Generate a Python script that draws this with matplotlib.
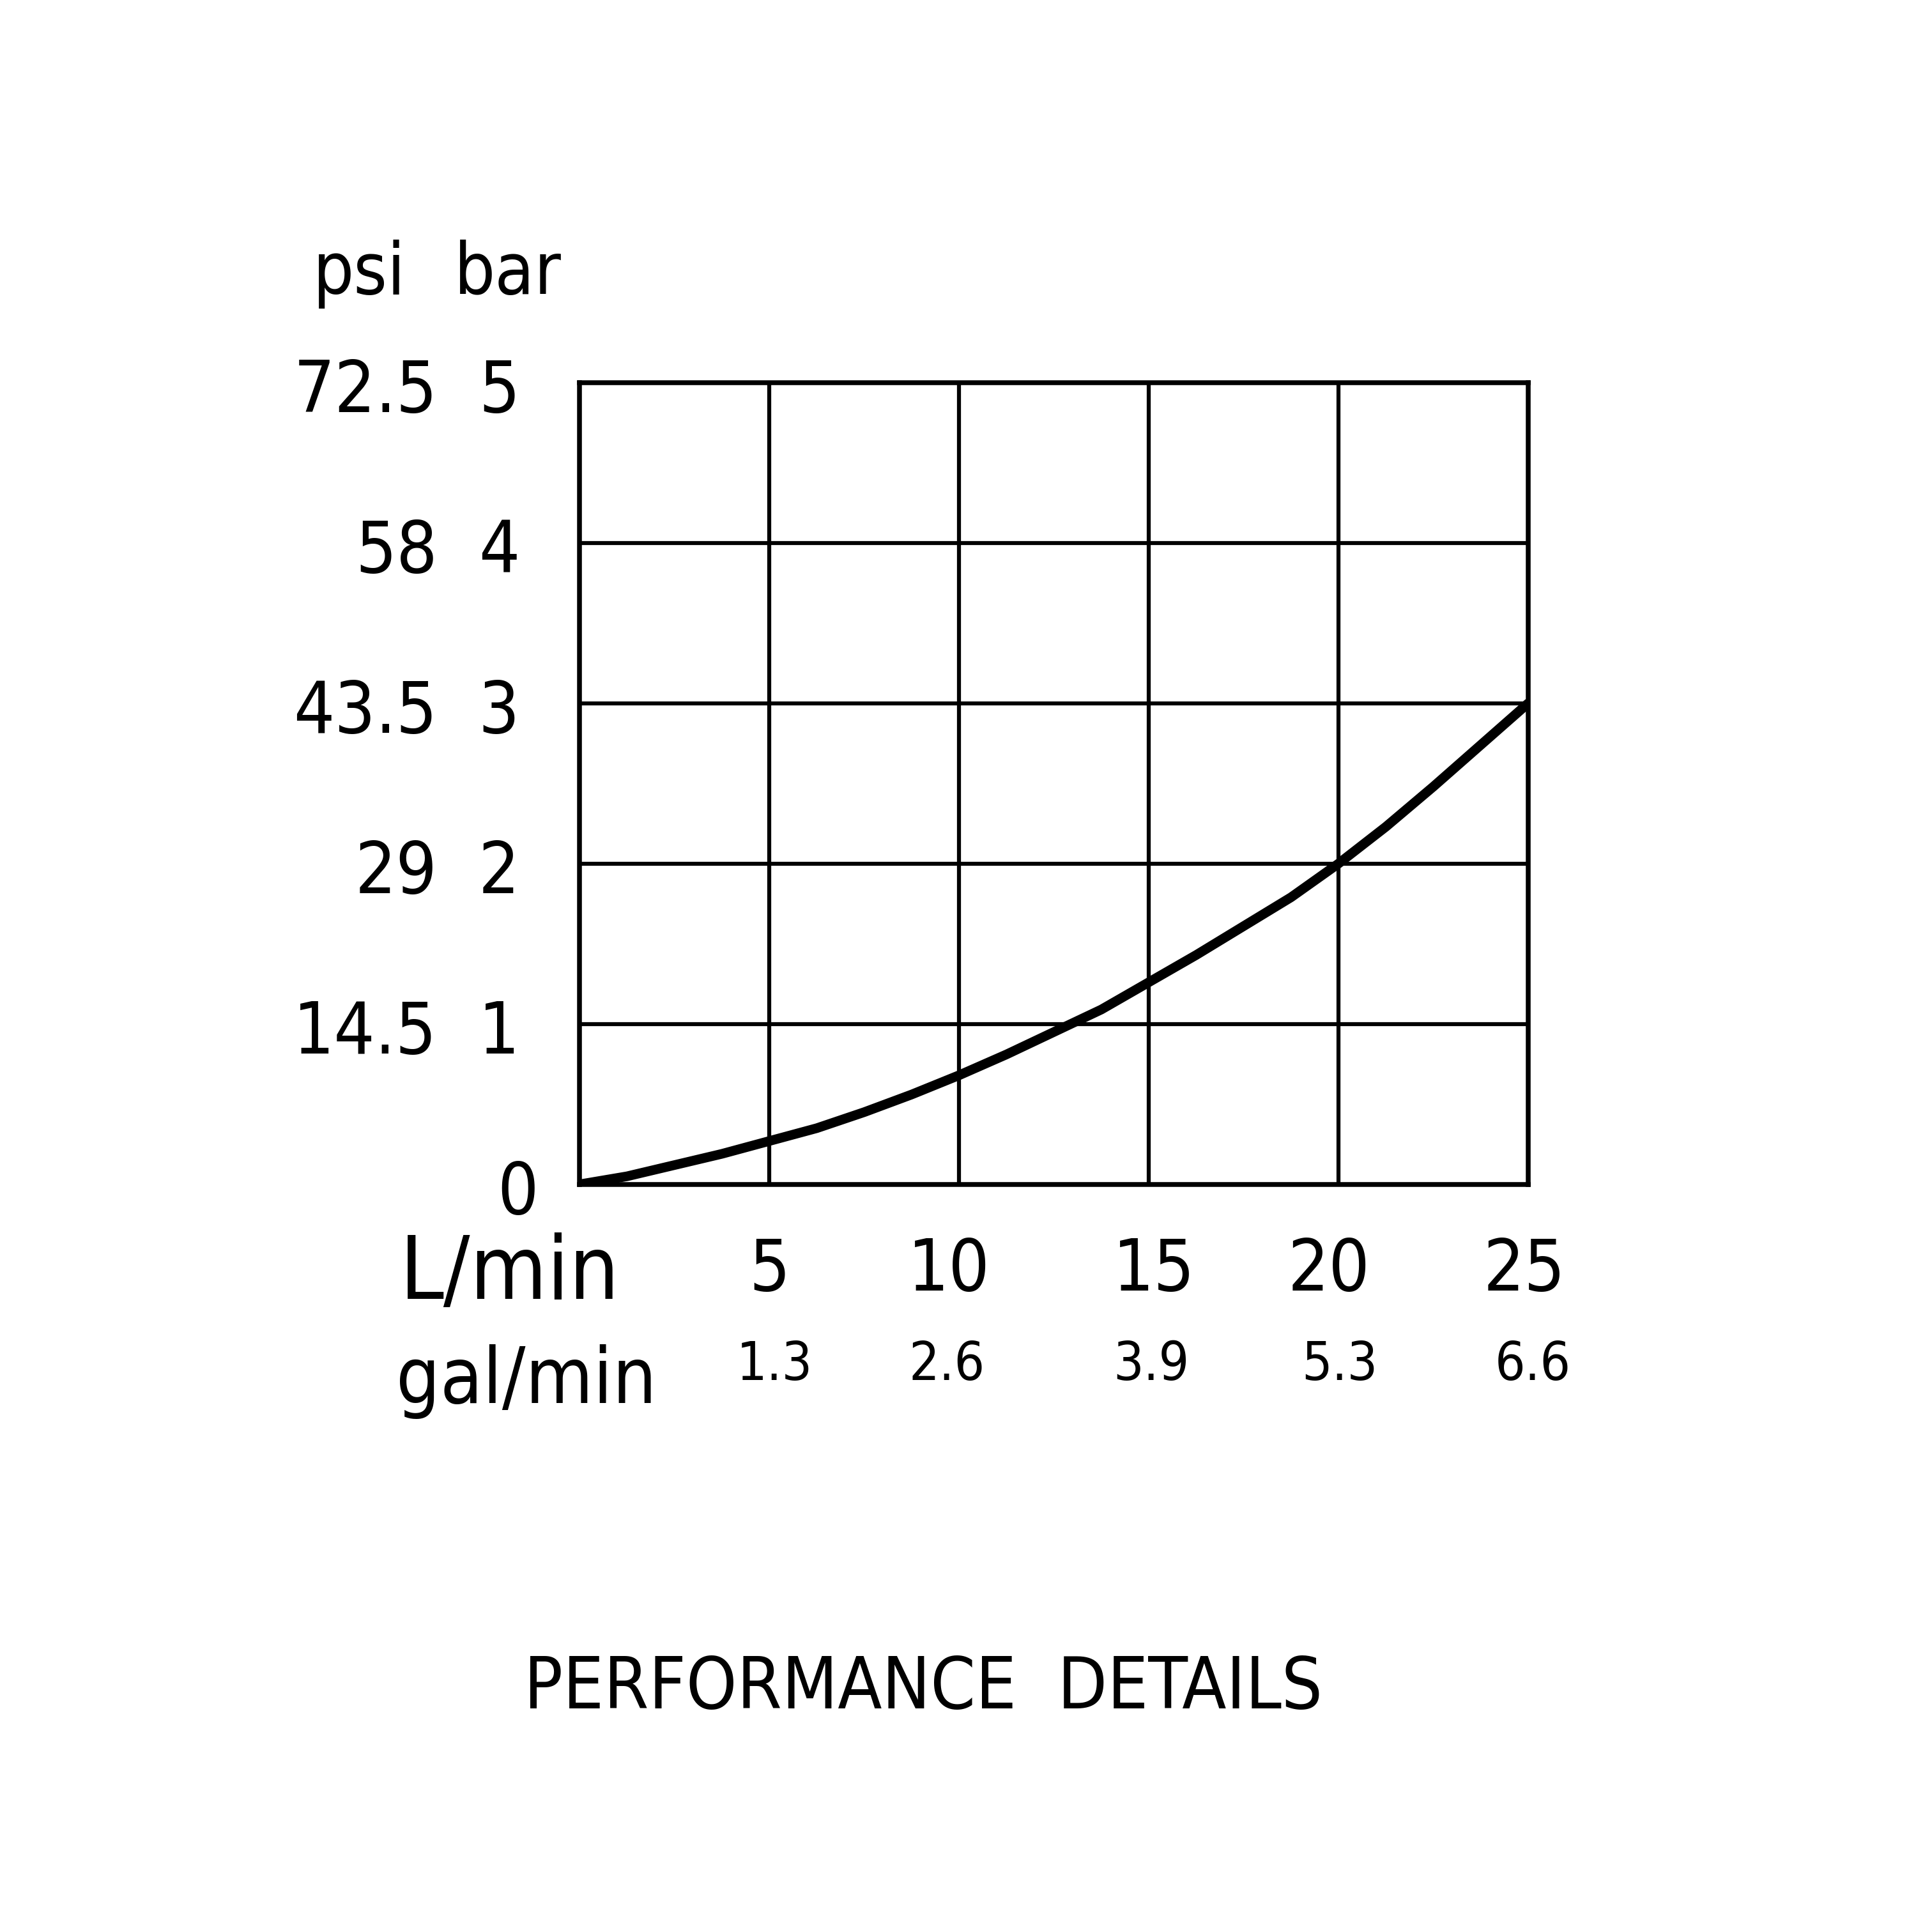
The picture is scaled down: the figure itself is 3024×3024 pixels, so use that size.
import matplotlib
matplotlib.use("Agg")
import matplotlib.pyplot as plt

# pressure drop curve (L/min -> bar)
flow_lpm = [0, 1.25, 2.5, 3.75, 5, 6.25, 7.5, 8.75, 10, 11.25, 12.5, 13.75,
            15, 16.25, 17.5, 18.75, 20, 21.25, 22.5, 23.75, 25]
drop_bar = [0, 0.05, 0.12, 0.19, 0.27, 0.35, 0.45, 0.56, 0.68, 0.81, 0.95, 1.09,
            1.26, 1.43, 1.61, 1.79, 2.0, 2.23, 2.48, 2.74, 3.0]

bar_ticks = [0, 1, 2, 3, 4, 5]
psi_labels = ["", "14.5", "29", "43.5", "58", "72.5"]
lpm_ticks = [5, 10, 15, 20, 25]
gal_labels = ["1.3", "2.6", "3.9", "5.3", "6.6"]

# small hand-drawn nudges of the labels, in x data units
lpm_nudge = [0, -0.26, 0.13, -0.26, -0.1]
gal_nudge = [0.13, -0.32, 0.06, 0.03, 0.13]

plt.rcParams['font.family'] = ["DejaVu Sans"]
plt.rcParams['font.stretch'] = "condensed"

fig = plt.figure(figsize=(10.08, 10.08), dpi=300)
ax = fig.add_axes([0.300, 0.387, 0.491, 0.415])
ax.set_xlim(0, 25)
ax.set_ylim(0, 5)

for x in range(0, 26, 5):
    ax.axvline(x, color="black", lw=1.5, zorder=1)
for y in bar_ticks:
    ax.axhline(y, color="black", lw=1.5, zorder=1)
for s in ax.spines.values():
    s.set_linewidth(1.8)
ax.set_xticks([])
ax.set_yticks([])

ax.plot(flow_lpm, drop_bar, color="black", lw=3.6, solid_capstyle="round",
        solid_joinstyle="round", zorder=3)

# y axis labels (psi / bar columns)
trans = ax.get_yaxis_transform()
for b, p in zip(bar_ticks, psi_labels):
    bx = -0.065 if b == 0 else -0.085
    ax.text(bx, b - 0.06, str(b), transform=trans, ha="center", va="center",
            fontsize=27, clip_on=False)
    if p:
        ax.text(-0.15, b - 0.06, p, transform=trans, ha="right", va="center",
                fontsize=27, clip_on=False)
fig.text(0.186, 0.858, "psi", ha="center", va="center", fontsize=27)
fig.text(0.263, 0.858, "bar", ha="center", va="center", fontsize=27)

# x axis labels (L/min / gal/min rows)
xtrans = ax.get_xaxis_transform()
for x, g, n1, n2 in zip(lpm_ticks, gal_labels, lpm_nudge, gal_nudge):
    ax.text(x + n1, -0.108, str(x), transform=xtrans, ha="center", va="center",
            fontsize=27, clip_on=False)
    ax.text(x + n2, -0.225, g, transform=xtrans, ha="center", va="center",
            fontsize=20, clip_on=False)
fig.text(0.207, 0.340, "L/min", ha="left", va="center", fontsize=33)
fig.text(0.205, 0.285, "gal/min", ha="left", va="center", fontsize=29)

fig.text(0.478, 0.126, "PERFORMANCE  DETAILS", ha="center", va="center",
         fontsize=27)

fig.savefig("out.png", dpi=300, facecolor="white")
